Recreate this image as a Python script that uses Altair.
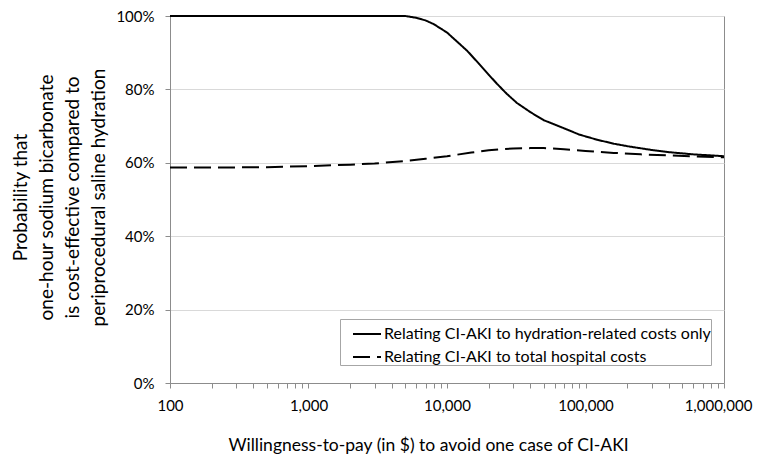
import altair as alt
import pandas as pd

# ---- data ----
series_names = [
    "Relating CI-AKI to hydration-related costs only",
    "Relating CI-AKI to total hospital costs",
]

solid_x = [100, 1000, 3000, 5000, 6000, 7000, 8000, 9000, 10000, 12000, 14000,
           17000, 20000, 23000, 27000, 32000, 40000, 50000, 69000, 90000,
           121000, 160000, 210000, 300000, 400000, 600000, 1000000]
solid_y = [1.0, 1.0, 1.0, 1.0, 0.995, 0.988, 0.978, 0.966, 0.955, 0.928, 0.905,
           0.870, 0.840, 0.815, 0.788, 0.763, 0.738, 0.716, 0.695, 0.677,
           0.663, 0.652, 0.644, 0.635, 0.629, 0.623, 0.618]

dashed_x = [100, 200, 500, 1000, 2000, 3000, 5000, 7000, 10000, 15000, 20000,
            30000, 40000, 50000, 70000, 100000, 160000, 250000, 400000, 1000000]
dashed_y = [0.587, 0.587, 0.588, 0.591, 0.595, 0.598, 0.605, 0.611, 0.618, 0.628,
            0.634, 0.639, 0.640, 0.640, 0.637, 0.632, 0.627, 0.623, 0.620, 0.615]

x_ticks = [m * 10 ** e for e in range(2, 6) for m in range(1, 10)] + [1000000]
y_ticks = [0, 0.2, 0.4, 0.6, 0.8, 1.0]

df = pd.concat([
    pd.DataFrame({"wtp": solid_x, "prob": solid_y, "series": series_names[0], "order": range(len(solid_x))}),
    pd.DataFrame({"wtp": dashed_x, "prob": dashed_y, "series": series_names[1], "order": range(len(dashed_x))}),
])

FONT = "Lato"

chart = alt.Chart(df).mark_line(color="black", strokeWidth=2).encode(
    x=alt.X(
        "wtp:Q",
        scale=alt.Scale(type="log", domain=[100, 1000000], nice=False),
        axis=alt.Axis(
            title="Willingness-to-pay (in $) to avoid one case of CI-AKI",
            values=x_ticks,
            labelExpr="abs(round(log(datum.value)/LN10) - log(datum.value)/LN10) < 0.000001 ? format(datum.value, ',') : ''",
            grid=False,
            tickSize=5,
            tickColor="#8c8c8c",
            domainColor="#8c8c8c",
            labelPadding=10,
            labelFontSize=15,
            labelFont=FONT,
            labelColor="black",
            labelOffset={"condition": {"test": "datum.value >= 1000000", "value": -6}, "value": 0},
            titleFont=FONT,
            titleFontSize=17.5,
            titleFontWeight="normal",
            titleColor="black",
            titleX=258,
            titleY=62,
            titleBaseline="middle",
            titleAlign="center",
            labelFlush=False,
            labelOverlap=False,
        ),
    ),
    y=alt.Y(
        "prob:Q",
        scale=alt.Scale(domain=[0, 1], nice=False),
        axis=alt.Axis(
            title=["Probability that", "one-hour sodium bicarbonate",
                   "is cost-effective compared to", "periprocedural saline hydration"],
            values=y_ticks,
            format=".0%",
            grid=True,
            gridColor="#d9d9d9",
            tickSize=5,
            tickColor="#8c8c8c",
            domainColor="#8c8c8c",
            labelPadding=11,
            labelFontSize=15,
            labelFont=FONT,
            labelColor="black",
            titleFont=FONT,
            titleFontSize=19,
            titleFontWeight="normal",
            titleColor="black",
            titleLineHeight=26,
            titleX=-159,
            titleY=181,
            titleAngle=270,
            titleBaseline="top",
            titleAlign="center",
        ),
    ),
    strokeDash=alt.StrokeDash(
        "series:N",
        scale=alt.Scale(domain=series_names, range=[[1, 0], [17, 7]]),
        legend=alt.Legend(
            title=None,
            orient="none",
            legendX=170,
            legendY=303,
            symbolType="stroke",
            symbolSize=784,
            symbolStrokeWidth=2,
            symbolStrokeColor="black",
            symbolOffset=12,
            labelFont=FONT,
            labelFontSize=16,
            labelColor="black",
            labelOffset=2,
            labelExpr="datum.label + '\u00a0\u00a0\u00a0'",
            padding=0,
            rowPadding=0,
            strokeColor="#a6a6a6",
            fillColor="white",
            labelLimit=450,
        ),
    ),
    order="order:Q",
).properties(
    width=554,
    height=367,
    autosize=alt.AutoSizeParams(type="none"),
    padding={"left": 162, "top": 8, "right": 29, "bottom": 73},
).configure_view(
    stroke="#8c8c8c",
)

chart.save("out.html", embed_options={"renderer": "svg", "actions": False})
